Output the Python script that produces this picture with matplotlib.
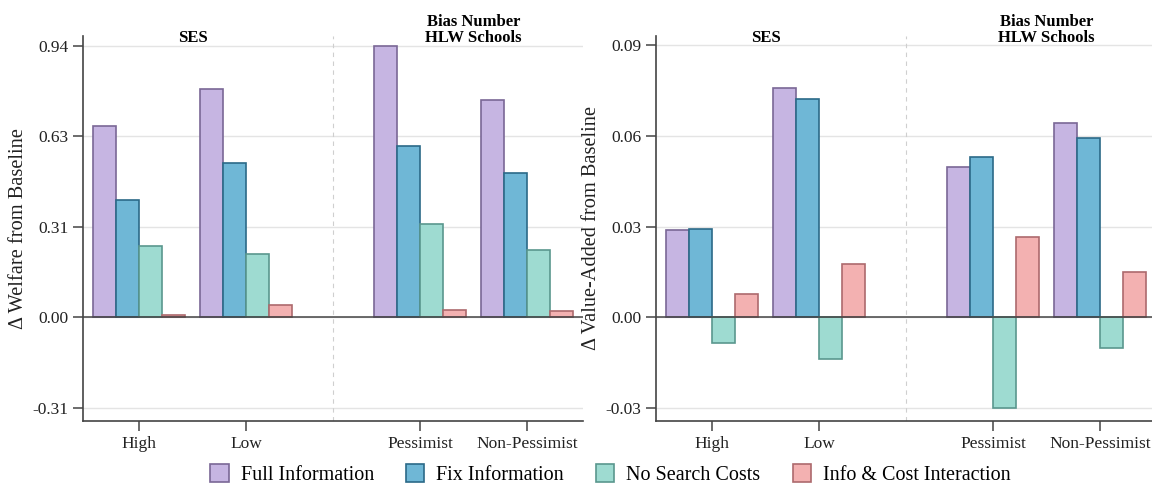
import matplotlib
matplotlib.use("Agg")
import matplotlib.pyplot as plt
from matplotlib.patches import Patch

plt.rcParams['font.family'] = ['Liberation Serif', 'DejaVu Serif']

groups = ["High", "Low", "Pessimist", "Non-Pessimist"]
series = ["Full Information", "Fix Information", "No Search Costs", "Info & Cost Interaction"]

# welfare change per group, one list per series
welfare_full = [0.662, 0.791, 0.940, 0.753]
welfare_fix = [0.405, 0.534, 0.593, 0.498]
welfare_nosearch = [0.248, 0.219, 0.322, 0.233]
welfare_interact = [0.009, 0.041, 0.025, 0.022]
welfare_ticks = [-0.313, 0.0, 0.313, 0.627, 0.94]

# value-added change per group
va_full = [0.0289, 0.0759, 0.0499, 0.0642]
va_fix = [0.0293, 0.0722, 0.0530, 0.0593]
va_nosearch = [-0.0084, -0.0139, -0.0300, -0.0102]
va_interact = [0.0078, 0.0175, 0.0267, 0.0150]
va_ticks = [-0.03, 0.0, 0.03, 0.06, 0.09]

fills = ["#c6b5e2", "#6fb7d6", "#9edbd1", "#f3b1b1"]
edges = ["#7a6796", "#2b6a88", "#5a978e", "#ad6a6d"]

xpos = [0, 1, 2.62, 3.62]
sep = 1.81
width = 0.215
dark = "#444444"


def draw_panel(ax, values, ticks, ylim, ylabel):
    for i, vals in enumerate(values):
        xs = [x + (i - 1.5) * width for x in xpos]
        ax.bar(xs, vals, width=width, color=fills[i], edgecolor=edges[i],
               linewidth=1.2, zorder=3)
    ax.axhline(0, color=dark, lw=1.1, zorder=4)
    ax.axvline(sep, color="#cfcfcf", lw=0.8, ls=(0, (4, 4)), zorder=1)
    ax.set_xlim(-0.52, 4.14)
    ax.set_ylim(*ylim)
    ax.set_yticks(ticks)
    ax.set_yticklabels(["%.2f" % t for t in ticks])
    ax.set_xticks(xpos)
    ax.set_xticklabels(groups)
    ax.yaxis.grid(True, color="#e4e4e4", lw=1.0)
    ax.set_axisbelow(True)
    for s in ["top", "right"]:
        ax.spines[s].set_visible(False)
    for s in ["left", "bottom"]:
        ax.spines[s].set_color(dark)
        ax.spines[s].set_linewidth(1.2)
    ax.tick_params(axis="both", colors=dark, length=7, width=1.1,
                   labelsize=12.5, labelcolor="#222222")
    ax.set_ylabel(ylabel, fontsize=14.7, color="#222222", labelpad=3)
    ax.text((xpos[0] + xpos[1]) / 2, 0.975, "SES", transform=ax.get_xaxis_transform(),
            ha="center", va="bottom", fontsize=12, fontweight="bold")
    ax.text((xpos[2] + xpos[3]) / 2, 0.975, "Bias Number\nHLW Schools",
            transform=ax.get_xaxis_transform(), ha="center", va="bottom",
            fontsize=12, fontweight="bold", linespacing=0.95)


fig = plt.figure(figsize=(11.52, 4.87), dpi=100)
ax1 = fig.add_axes([83 / 1152, 66 / 487, 500 / 1152, 385 / 487])
ax2 = fig.add_axes([656 / 1152, 66 / 487, 500 / 1152, 385 / 487])

draw_panel(ax1, [welfare_full, welfare_fix, welfare_nosearch, welfare_interact],
           welfare_ticks, (-0.359, 0.974), "Δ Welfare from Baseline")
draw_panel(ax2, [va_full, va_fix, va_nosearch, va_interact],
           va_ticks, (-0.0343, 0.0931), "Δ Value-Added from Baseline")

handles = [Patch(facecolor=fills[i], edgecolor=edges[i], linewidth=1.2, label=series[i])
           for i in range(4)]
fig.legend(handles=handles, loc="center", bbox_to_anchor=(0.53, 0.025), ncol=4,
           frameon=False, fontsize=14.5, handlelength=0.9, handleheight=1.0,
           handletextpad=0.6, columnspacing=1.6)

fig.savefig("out.png", dpi=100)
